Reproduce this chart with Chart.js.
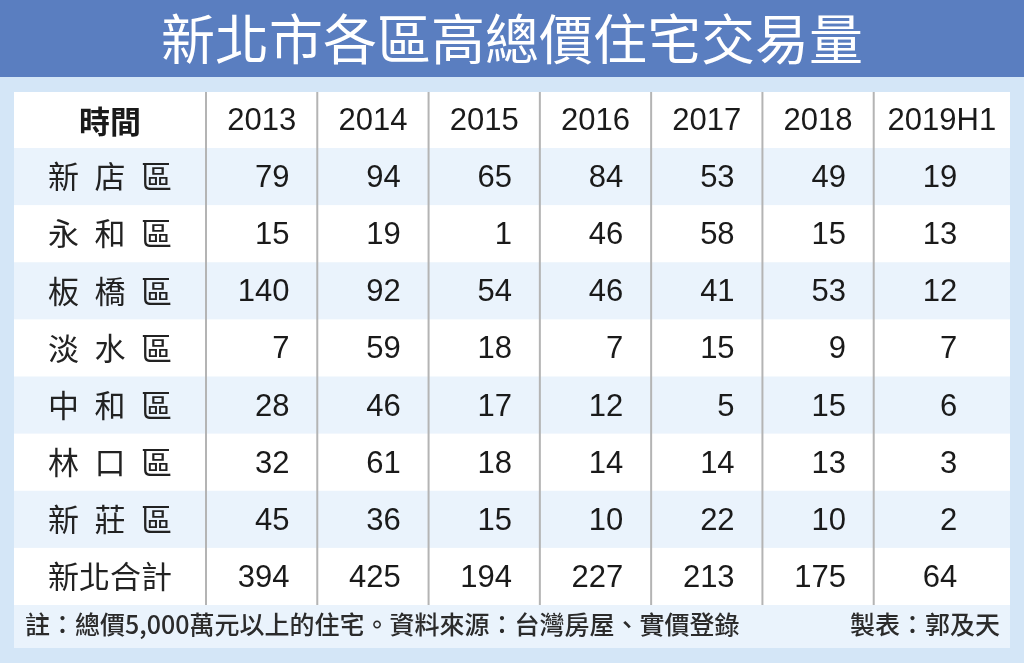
<!DOCTYPE html>
<html>
<head>
<meta charset="utf-8">
<script src="https://cdn.jsdelivr.net/npm/chart.js@4/dist/chart.umd.min.js"></script>
<style>
  html, body { margin: 0; padding: 0; background: #d4e6f7; }
  #wrap { width: 1024px; height: 663px; }
</style>
</head>
<body>
<div id="wrap"><canvas id="c" width="1024" height="663"></canvas></div>
<script>
// table data
const titleText = '新北市各區高總價住宅交易量';
const cornerLabel = '時間';
const periods = ['2013', '2014', '2015', '2016', '2017', '2018', '2019H1'];
const districts = ['新 店 區', '永 和 區', '板 橋 區', '淡 水 區', '中 和 區', '林 口 區', '新 莊 區', '新北合計'];
const xindian = [79, 94, 65, 84, 53, 49, 19];
const yonghe = [15, 19, 1, 46, 58, 15, 13];
const banqiao = [140, 92, 54, 46, 41, 53, 12];
const tamsui = [7, 59, 18, 7, 15, 9, 7];
const zhonghe = [28, 46, 17, 12, 5, 15, 6];
const linkou = [32, 61, 18, 14, 14, 13, 3];
const xinzhuang = [45, 36, 15, 10, 22, 10, 2];
const total = [394, 425, 194, 227, 213, 175, 64];
const noteText = '註：總價5,000萬元以上的住宅。資料來源：台灣房屋、實價登錄';
const creditText = '製表：郭及天';

const rows = [xindian, yonghe, banqiao, tamsui, zhonghe, linkou, xinzhuang, total];

const CJK = '"Noto Sans CJK TC", "Noto Sans CJK SC", sans-serif';
const NUM = '"Liberation Sans", Arial, sans-serif';
const TABLE_RIGHT = 1010; // white table panel runs a bit past the plot area

const datasets = rows.map((vals, r) => ({
    label: districts[r],
    data: periods.map((p, i) => ({ x: p, y: districts[r], v: vals[i] })),
    showLine: false,
    pointRadius: 0,
    pointHoverRadius: 0
}));

// column edges from the x scale; the last cell stretches to the panel edge
function columnEdges(chart) {
    const xs = chart.scales.x;
    const colStep = xs.getPixelForValue(1) - xs.getPixelForValue(0);
    const edges = [chart.chartArea.left];
    for (let i = 0; i < periods.length - 1; i++) {
        edges.push(xs.getPixelForValue(i) + colStep / 2);
    }
    edges.push(TABLE_RIGHT);
    return edges;
}

// backgrounds, stripes, column rules, cell texts and footnote
const tablePlugin = {
    id: 'tablePlugin',
    beforeDraw(chart) {
        const ctx = chart.ctx;
        const area = chart.chartArea;
        const xs = chart.scales.x;
        const ys = chart.scales.y;
        ctx.save();
        ctx.fillStyle = '#d4e6f7';
        ctx.fillRect(0, 0, chart.width, chart.height);
        ctx.fillStyle = '#5a7ec0';
        ctx.fillRect(0, 0, chart.width, 77);

        ctx.fillStyle = '#ffffff';
        ctx.font = '54px ' + CJK;
        ctx.textAlign = 'center';
        ctx.textBaseline = 'middle';
        ctx.fillText(titleText, chart.width / 2, 39);

        const left = ys.left, right = TABLE_RIGHT, top = xs.top, bottom = area.bottom;
        ctx.fillRect(left, top, right - left, bottom - top);

        const rowStep = ys.getPixelForValue(1) - ys.getPixelForValue(0);
        ctx.fillStyle = '#eaf3fc';
        districts.forEach((d, i) => {
            if (i % 2 === 0) {
                const cy = ys.getPixelForValue(i);
                ctx.fillRect(left, cy - rowStep / 2, right - left, rowStep);
            }
        });
        // footnote strip
        ctx.fillRect(left, bottom, right - left, 43);

        // column rules
        ctx.strokeStyle = '#b4b4b4';
        ctx.lineWidth = 2;
        columnEdges(chart).slice(0, -1).forEach(ex => {
            ctx.beginPath();
            ctx.moveTo(ex, top);
            ctx.lineTo(ex, bottom);
            ctx.stroke();
        });
        ctx.restore();
    },
    afterDatasetsDraw(chart) {
        const ctx = chart.ctx;
        const xs = chart.scales.x;
        const ys = chart.scales.y;
        const colStep = xs.getPixelForValue(1) - xs.getPixelForValue(0);
        const headY = (xs.top + xs.bottom) / 2 + 1;
        const edges = columnEdges(chart);
        ctx.save();
        ctx.fillStyle = '#1a1a1a';
        ctx.textBaseline = 'middle';

        // header row
        ctx.font = '31px ' + NUM;
        ctx.textAlign = 'center';
        periods.forEach((p, i) => {
            ctx.fillText(p, (edges[i] + edges[i + 1]) / 2, headY);
        });
        ctx.font = 'bold 31px ' + CJK;
        ctx.fillText(cornerLabel, (ys.left + ys.right) / 2, headY);

        // cell values
        ctx.font = '31px ' + NUM;
        ctx.textAlign = 'right';
        chart.data.datasets.forEach((ds, di) => {
            const meta = chart.getDatasetMeta(di);
            meta.data.forEach((pt, j) => {
                ctx.fillText(String(ds.data[j].v), pt.x + colStep * 0.25, pt.y + 2);
            });
        });

        // footnote
        const fy = chart.chartArea.bottom + 19;
        ctx.fillStyle = '#2b2b2b';
        ctx.font = '500 25px ' + CJK;
        ctx.textAlign = 'left';
        ctx.fillText(noteText, 25, fy);
        ctx.textAlign = 'right';
        ctx.fillText(creditText, 1000, fy);
        ctx.restore();
    }
};

new Chart(document.getElementById('c'), {
    type: 'line',
    data: { datasets },
    options: {
        responsive: false,
        animation: false,
        events: [],
        layout: { padding: { top: 92, left: 14, right: 39, bottom: 58 } },
        plugins: {
            legend: { display: false },
            tooltip: { enabled: false },
            title: { display: false }
        },
        scales: {
            x: {
                type: 'category',
                labels: periods,
                position: 'top',
                offset: true,
                grid: { display: false, drawTicks: false },
                border: { display: false },
                ticks: { display: false },
                afterFit(scale) { scale.height = 56; }
            },
            y: {
                type: 'category',
                labels: districts,
                offset: true,
                grid: { display: false, drawTicks: false },
                border: { display: false },
                ticks: {
                    color: '#222222',
                    font: { family: CJK, size: 31 },
                    crossAlign: 'center',
                    padding: 34,
                    autoSkip: false,
                    callback(value) { return this.getLabelForValue(value).replace(/ /g, '\u2002'); }
                },
                afterFit(scale) { scale.width = 192; }
            }
        }
    },
    plugins: [tablePlugin]
});
</script>
</body>
</html>
